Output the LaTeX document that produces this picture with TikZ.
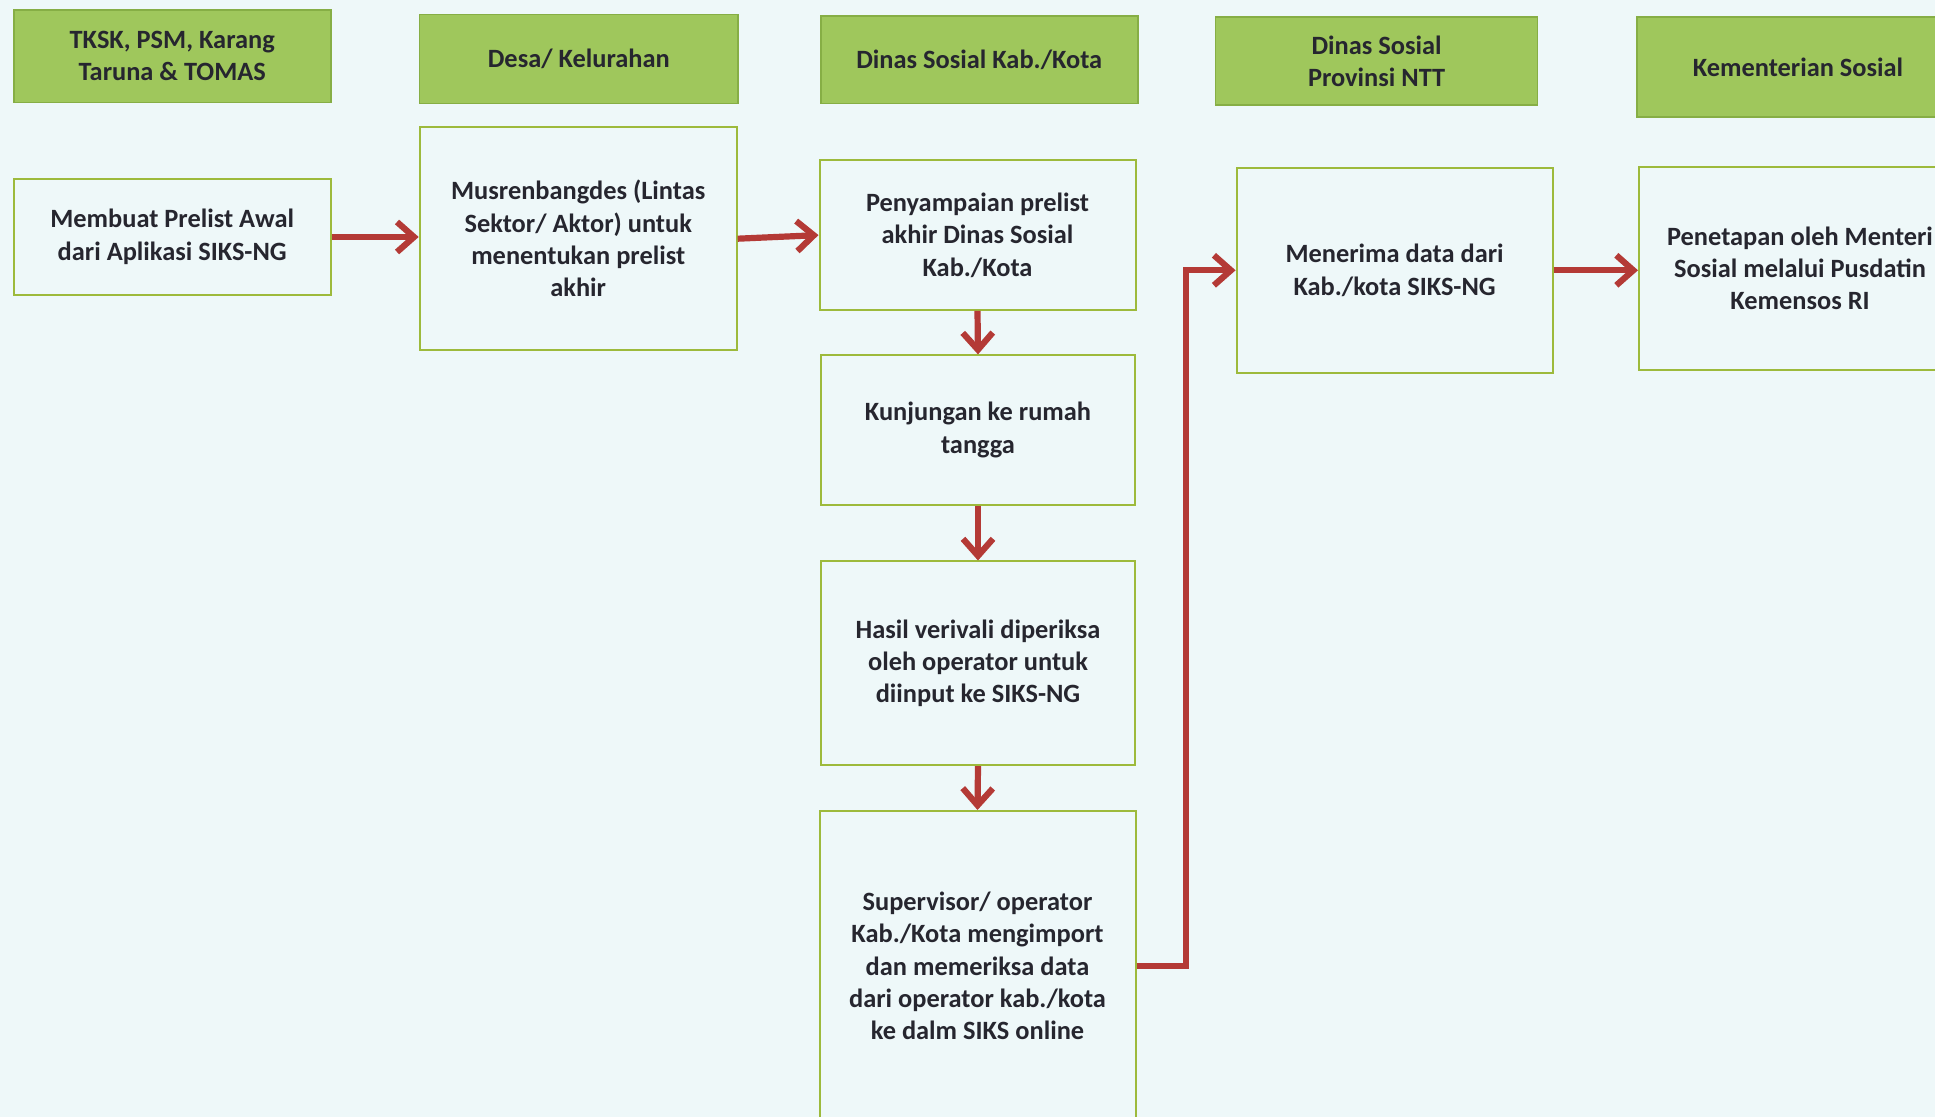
\documentclass[tikz,border=0pt]{standalone}
\usepackage{fontspec}
\setmainfont{Carlito}
\usetikzlibrary{arrows.meta}
\definecolor{bgc}{HTML}{EEF8F9}
\definecolor{hdrfill}{HTML}{9FC75C}
\definecolor{hdrline}{HTML}{86AE45}
\definecolor{boxline}{HTML}{9DBA3C}
\definecolor{arr}{HTML}{B43A36}
\definecolor{txt}{HTML}{26262F}
\tikzset{
  hdr/.style={draw=hdrline, line width=0.8pt, fill=hdrfill, inner sep=0pt, align=center,
    font=\bfseries\fontsize{13.2}{16.2}\selectfont, text=txt},
  bodybox/.style={draw=boxline, line width=1pt, fill=bgc, inner sep=0pt, align=center,
    font=\bfseries\fontsize{13.2}{16.2}\selectfont, text=txt},
  flow/.style={draw=arr, line width=3.1pt, -{Straight Barb[length=8.5pt,width=15pt]}},
}
\begin{document}
\begin{tikzpicture}[x=0.5pt,y=-0.5pt]
\useasboundingbox (0,0) rectangle (1935,1117);
\fill[bgc] (0,0) rectangle (1935,1117);
\clip (0,0) rectangle (1935,1117);
% headers
\node[hdr, minimum width=158.5pt, minimum height=46.2pt] (H1) at (172.2,56.2) {TKSK, PSM, Karang\\Taruna \& TOMAS};
\node[hdr, minimum width=159.2pt, minimum height=44.5pt] (H2) at (578.8,59.2) {Desa/ Kelurahan};
\node[hdr, minimum width=158.5pt, minimum height=43.8pt] (H3) at (979.2,59.9) {Dinas Sosial Kab./Kota};
\node[hdr, minimum width=161pt, minimum height=43.8pt] (H4) at (1376.6,61.1) {Dinas Sosial\\Provinsi NTT};
\node[hdr, minimum width=161pt, minimum height=50pt] (H5) at (1798,67.2) {Kementerian Sosial};
% body boxes
\node[bodybox, minimum width=158.5pt, minimum height=58pt] (B1) at (172.2,237) {Membuat Prelist Awal\\dari Aplikasi SIKS-NG};
\node[bodybox, minimum width=158.5pt, minimum height=111.7pt] (B2) at (578.2,238.7) {Musrenbangdes (Lintas\\Sektor/ Aktor) untuk\\menentukan prelist\\akhir};
\node[bodybox, minimum width=158pt, minimum height=74.7pt] (B3) at (977.5,235.1) {Penyampaian prelist\\akhir Dinas Sosial\\Kab./Kota};
\node[bodybox, minimum width=157.3pt, minimum height=74.6pt] (B4) at (978,430) {Kunjungan ke rumah\\tangga};
\node[bodybox, minimum width=157.3pt, minimum height=101.8pt] (B5) at (978,663.3) {Hasil verivali diperiksa\\oleh operator untuk\\diinput ke SIKS-NG};
\node[bodybox, minimum width=158pt, minimum height=155pt] (B6) at (977.5,966) {Supervisor/ operator\\Kab./Kota mengimport\\dan memeriksa data\\dari operator kab./kota\\ke dalm SIKS online};
\node[bodybox, minimum width=158pt, minimum height=102.5pt] (B7) at (1394.6,270.3) {Menerima data dari\\Kab./kota SIKS-NG};
\node[bodybox, minimum width=161pt, minimum height=101.8pt] (B8) at (1800,268.4) {Penetapan oleh Menteri\\Sosial melalui Pusdatin\\Kemensos RI};
% connectors
\coordinate (bend) at (1186,0);
\draw[flow] (B1.east) -- (B1.east -| B2.west);
\draw[flow] (B2.east) -- (B3.west);
\draw[flow] (B3.south) -- (B4.north);
\draw[flow] (B4.south) -- (B5.north);
\draw[flow] (B5.south) -- (B6.north);
\draw[flow] (B6.east) -| (bend |- B7.west) -- (B7.west);
\draw[flow] (B7.east) -- (B7.east -| B8.west);
\end{tikzpicture}
\end{document}
